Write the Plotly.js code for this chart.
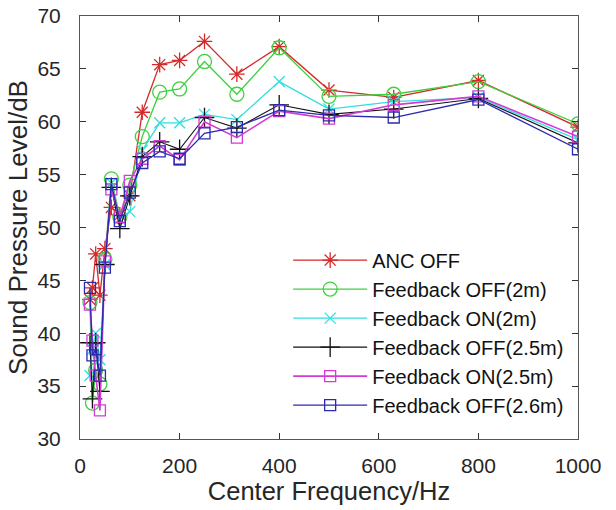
<!DOCTYPE html>
<html>
<head>
<meta charset="utf-8">
<script src="https://cdn.plot.ly/plotly-3.0.1.min.js"></script>
<style>html,body{margin:0;padding:0;background:#fff;}#chart{width:616px;height:510px;}</style>
</head>
<body>
<div id="chart"></div>
<script>
const freq = [20, 25, 31.5, 40, 50, 63, 80, 100, 125, 160, 200, 250, 315, 400, 500, 630, 800, 1000];
const ancOff      = [43.2, 44.3, 47.5, 43.6, 48.0, 51.9, 51.2, 53.0, 60.9, 65.4, 65.8, 67.6, 64.5, 67.1, 63.0, 62.3, 63.9, 59.5];
const fbOff2m     = [42.9, 33.4, 36.5, 35.2, 47.0, 54.6, 51.0, 54.0, 58.6, 62.8, 63.1, 65.7, 62.6, 67.0, 62.4, 62.6, 63.8, 59.8];
const fbOn2m      = [36.0, 38.5, 40.0, 37.5, 46.5, 54.2, 50.8, 51.5, 57.3, 59.9, 59.9, 60.7, 60.2, 63.8, 61.2, 61.9, 62.3, 58.3];
const fbOff25m    = [39.1, 33.8, 39.1, 34.5, 46.5, 53.8, 49.9, 53.0, 56.7, 58.1, 57.4, 60.4, 59.4, 61.6, 60.7, 61.2, 62.2, 58.0];
const fbOn25m     = [42.7, 39.3, 36.0, 32.7, 46.8, 53.6, 51.0, 54.4, 56.5, 57.7, 56.4, 60.0, 58.5, 61.0, 60.3, 61.6, 62.4, 58.6];
const fbOff26m    = [44.3, 37.9, 38.5, 36.0, 46.2, 54.1, 50.6, 53.3, 56.1, 57.2, 56.5, 58.9, 59.5, 61.1, 60.6, 60.4, 62.1, 57.4];
const names = ["ANC OFF", "Feedback OFF(2m)", "Feedback ON(2m)", "Feedback OFF(2.5m)", "Feedback ON(2.5m)", "Feedback OFF(2.6m)"];
const xTicks = [0, 200, 400, 600, 800, 1000];
const yTicks = [30, 35, 40, 45, 50, 55, 60, 65, 70];

const series = [ancOff, fbOff2m, fbOn2m, fbOff25m, fbOn25m, fbOff26m];
const colors = ["#d42a2a", "#3fcf3f", "#33dede", "#111111", "#d43bd4", "#2a2ab0"];
const symbols = ["asterisk-open", "circle-open", "x-thin-open", "cross-thin-open", "square-open", "square-open"];
const sizes = [13, 14, 11, 14, 11, 11];
const widths = [1.3, 1.3, 1.3, 1.1, 1.6, 1.3];

const traces = series.map((s, i) => ({
  x: freq, y: s, name: names[i], type: "scatter", mode: "lines+markers",
  legendgroup: "g" + i,
  line: {color: colors[i], width: widths[i]},
  marker: {symbol: symbols[i], size: sizes[i], color: colors[i], line: {color: colors[i], width: 1.3}}
}));

const FONT = "Liberation Sans, Arial, sans-serif";
const axisCommon = {
  showgrid: false, zeroline: false, showline: true, linecolor: "#555", linewidth: 1,
  mirror: "ticks", ticks: "inside", ticklen: 6, tickcolor: "#333",
  tickfont: {family: FONT, size: 21, color: "#262626"}
};

const layout = {
  width: 616, height: 510,
  margin: {l: 80, r: 38, t: 16, b: 71},
  paper_bgcolor: "#fff", plot_bgcolor: "#fff",
  showlegend: true,
  legend: {
    x: 0.418, y: 0.469, xanchor: "left", yanchor: "top",
    bgcolor: "rgba(255,255,255,0)", borderwidth: 0,
    font: {family: FONT, size: 20, color: "#111"},
    itemwidth: 74, tracegroupgap: 0
  },
  xaxis: Object.assign({}, axisCommon, {
    range: [0, 1000], tickvals: xTicks, ticktext: xTicks.map(String),
    ticklabelstandoff: 8,
    title: {text: "Center Frequency/Hz", standoff: 4, font: {family: FONT, size: 25.5, color: "#262626"}}
  }),
  yaxis: Object.assign({}, axisCommon, {
    range: [30, 70], tickvals: yTicks, ticktext: yTicks.map(String),
    ticklabelstandoff: 14,
    title: {text: "Sound Pressure Level/dB", standoff: 2, font: {family: FONT, size: 26, color: "#262626"}}
  })
};

Plotly.newPlot("chart", traces, layout, {displayModeBar: false, staticPlot: true});
</script>
</body>
</html>
